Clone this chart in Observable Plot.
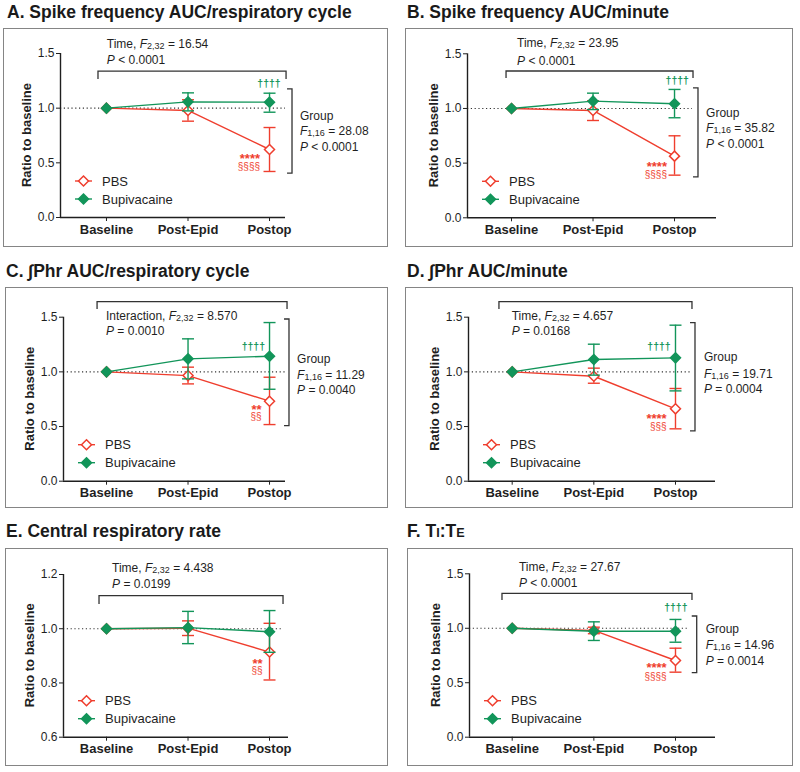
<!DOCTYPE html>
<html><head><meta charset="utf-8">
<script src="https://cdn.jsdelivr.net/npm/d3@7"></script>
<script src="https://cdn.jsdelivr.net/npm/@observablehq/plot@0.6"></script>
<style>
body{margin:0;background:#fff;}
#root{position:relative;width:800px;height:772px;overflow:hidden;font-family:"Liberation Sans",Arial,sans-serif;color:#1a1a1a;}
.title{position:absolute;font-weight:bold;font-size:17.5px;line-height:17.5px;white-space:nowrap;color:#1a1a1a;}
.box{position:absolute;box-sizing:border-box;border:1.5px solid #858585;}
.pl{position:absolute;}
.sc{font-size:0.72em;}
</style></head><body><div id="root"></div>
<script>
const timepoints = ["Baseline", "Post-Epid", "Postop"];
const groups = ["PBS", "Bupivacaine"];
const yLabel = "Ratio to baseline";

// A. Spike frequency AUC/respiratory cycle
const pbsA = [1.000, 0.979, 0.622];
const pbsA_lo = [null, 0.881, 0.421];
const pbsA_hi = [null, 1.077, 0.823];
const bupA = [1.000, 1.058, 1.055];
const bupA_lo = [null, 0.975, 0.963];
const bupA_hi = [null, 1.140, 1.137];
// B. Spike frequency AUC/minute
const pbsB = [1.000, 0.982, 0.564];
const pbsB_lo = [null, 0.890, 0.390];
const pbsB_hi = [null, 1.070, 0.750];
const bupB = [1.000, 1.067, 1.043];
const bupB_lo = [null, 0.990, 0.915];
const bupB_hi = [null, 1.140, 1.174];
// C. ∫Phr AUC/respiratory cycle
const pbsC = [1.000, 0.966, 0.732];
const pbsC_lo = [null, 0.890, 0.518];
const pbsC_hi = [null, 1.043, 0.951];
const bupC = [1.000, 1.119, 1.143];
const bupC_lo = [null, 0.936, 0.841];
const bupC_hi = [null, 1.302, 1.451];
// D. ∫Phr AUC/minute
const pbsD = [1.000, 0.960, 0.662];
const pbsD_lo = [null, 0.896, 0.479];
const pbsD_hi = [null, 1.034, 0.848];
const bupD = [1.000, 1.113, 1.128];
const bupD_lo = [null, 0.970, 0.826];
const bupD_hi = [null, 1.253, 1.427];
// E. Central respiratory rate
const pbsE = [1.000, 1.002, 0.914];
const pbsE_lo = [null, 0.975, 0.811];
const pbsE_hi = [null, 1.029, 1.020];
const bupE = [1.000, 1.004, 0.989];
const bupE_lo = [null, 0.945, 0.913];
const bupE_hi = [null, 1.064, 1.067];
// F. Ti:Te
const pbsF = [1.000, 0.980, 0.704];
const pbsF_lo = [null, 0.950, 0.597];
const pbsF_hi = [null, 1.010, 0.817];
const bupF = [1.000, 0.973, 0.973];
const bupF_lo = [null, 0.888, 0.872];
const bupF_hi = [null, 1.059, 1.081];

const yTicksStd = [0, 0.5, 1.0, 1.5];
const yTicksE = [0.6, 0.8, 1.0, 1.2];

const red = "#ef3e2e", green = "#12955a", ink = "#1f1f1f";

const panels = [
  {title: "A. Spike frequency AUC/respiratory cycle", tl: [7, 4], box: [3, 28, 385, 219],
   m: {top: 25, right: 103, bottom: 30, left: 57}, xd: [-0.564, 2.196], refEnd: 2.196, yd: [0, 1.5], yt: yTicksStd,
   pbs: [pbsA, pbsA_lo, pbsA_hi], bup: [bupA, bupA_lo, bupA_hi],
   ann: {top: {x: 0.01, y: [1.582, 1.436], lines: ["Time, _F_{2,32} = 16.54", "_P_ < 0.0001"]},
         br: {x1: -0.098, x2: 2.209, y: 1.335, y2: 1.262},
         dag: {x: 2, y: 1.216, anchor: "middle"},
         rb: {x: 2.282, x2: 2.221, y1: 1.171, y2: 0.402},
         grp: {x: 2.38, y: [0.924, 0.787, 0.640], lines: ["Group", "_F_{1,16} = 28.08", "_P_ < 0.0001"]},
         sig: {x: 1.89, y: [0.567, 0.466], lines: ["****", "§§§§"]}}},
  {title: "B. Spike frequency AUC/minute", tl: [407, 4], box: [405, 28, 388, 219],
   m: {top: 25.3, right: 77, bottom: 29.7, left: 62}, xd: [-0.54, 2.515], refEnd: 2.22, yd: [0, 1.5], yt: yTicksStd,
   pbs: [pbsB, pbsB_lo, pbsB_hi], bup: [bupB, bupB_lo, bupB_hi],
   ann: {top: {x: 0.074, y: [1.594, 1.430], lines: ["Time, _F_{2,32} = 23.95", "_P_ < 0.0001"]},
         br: {x1: -0.061, x2: 2.233, y: 1.338, y2: 1.274},
         dag: {x: 2.04, y: 1.247, anchor: "middle"},
         rb: {x: 2.294, x2: 2.233, y1: 1.183, y2: 0.369},
         grp: {x: 2.393, y: [0.954, 0.817, 0.671], lines: ["Group", "_F_{1,16} = 35.82", "_P_ < 0.0001"]},
         sig: {x: 1.914, y: [0.497, 0.396], lines: ["****", "§§§§"]}}},
  {title: "C. ∫Phr AUC/respiratory cycle", tl: [6, 263], box: [5, 287, 383, 221],
   m: {top: 29.7, right: 103, bottom: 27.3, left: 58}, xd: [-0.528, 2.196], refEnd: 2.196, yd: [0, 1.5], yt: yTicksStd,
   pbs: [pbsC, pbsC_lo, pbsC_hi], bup: [bupC, bupC_lo, bupC_hi],
   ann: {top: {x: 0, y: [1.509, 1.369], lines: ["Interaction, _F_{2,32} = 8.570", "_P_ = 0.0010"]},
         br: {x1: -0.11, x2: 2.221, y: 1.637, y2: 1.570},
         dag: {x: 1.951, y: 1.223, anchor: "end"},
         rb: {x: 2.245, x2: 2.184, y1: 1.479, y2: 0.503},
         grp: {x: 2.344, y: [1.113, 0.967, 0.830], lines: ["Group", "_F_{1,16} = 11.29", "_P_ = 0.0040"]},
         sig: {x: 1.91, y: [0.683, 0.583], lines: ["**", "§§"]}}},
  {title: "D. ∫Phr AUC/minute", tl: [407, 263], box: [405, 287, 388, 221],
   m: {top: 29.7, right: 78, bottom: 27.3, left: 63}, xd: [-0.535, 2.49], refEnd: 2.21, yd: [0, 1.5], yt: yTicksStd,
   pbs: [pbsD, pbsD_lo, pbsD_hi], bup: [bupD, bupD_lo, bupD_hi],
   ann: {top: {x: 0, y: [1.509, 1.369], lines: ["Time, _F_{2,32} = 4.657", "_P_ = 0.0168"]},
         br: {x1: -0.156, x2: 2.208, y: 1.637, y2: 1.570},
         dag: {x: 1.947, y: 1.223, anchor: "end"},
         rb: {x: 2.245, x2: 2.184, y1: 1.445, y2: 0.455},
         grp: {x: 2.355, y: [1.129, 0.982, 0.839], lines: ["Group", "_F_{1,16} = 19.71", "_P_ = 0.0004"]},
         sig: {x: 1.898, y: [0.601, 0.500], lines: ["****", "§§§"]}}},
  {title: "E. Central respiratory rate", tl: [6, 523], box: [5, 548, 383, 218],
   m: {top: 26, right: 100, bottom: 29.3, left: 58}, xd: [-0.528, 2.233], refEnd: 2.16, yd: [0.6, 1.2], yt: yTicksE,
   pbs: [pbsE, pbsE_lo, pbsE_hi], bup: [bupE, bupE_lo, bupE_hi],
   ann: {top: {x: 0.074, y: [1.222, 1.163], lines: ["Time, _F_{2,32} = 4.438", "_P_ = 0.0199"]},
         br: {x1: -0.086, x2: 2.172, y: 1.120, y2: 1.089},
         sig: {x: 1.922, y: [0.883, 0.843], lines: ["**", "§§"]}}},
  {title: 'F. T<span class="sc">I</span>:T<span class="sc">E</span>', tl: [407, 523], box: [407, 548, 386, 218],
   m: {top: 25.3, right: 78, bottom: 29.3, left: 62}, xd: [-0.523, 2.49], refEnd: 2.16, yd: [0, 1.5], yt: yTicksStd,
   pbs: [pbsF, pbsF_lo, pbsF_hi], bup: [bupF, bupF_lo, bupF_hi],
   ann: {top: {x: 0.089, y: [1.561, 1.414], lines: ["Time, _F_{2,32} = 27.67", "_P_ < 0.0001"]},
         br: {x1: -0.119, x2: 2.208, y: 1.316, y2: 1.255},
         dag: {x: 2.01, y: 1.181, anchor: "middle"},
         rb: {x: 2.266, x2: 2.205, y1: 1.108, y2: 0.588},
         grp: {x: 2.376, y: [0.986, 0.842, 0.698], lines: ["Group", "_F_{1,16} = 14.96", "_P_ = 0.0014"]},
         sig: {x: 1.898, y: [0.667, 0.557], lines: ["****", "§§§§"]}}}
];

const capSym = {draw(ctx) { ctx.moveTo(-6, 0); ctx.lineTo(6, 0); }};

function rows(arrs) {
  const [m, lo, hi] = arrs;
  return m.map((v, i) => ({i, m: v, lo: lo[i], hi: hi[i]}));
}

function series(data, color, filled) {
  const err = data.filter(d => d.lo != null);
  const sw = 1.4;
  return [
    Plot.line(data, {x: "i", y: "m", stroke: color, strokeWidth: sw}),
    Plot.ruleX(err, {x: "i", y1: "lo", y2: "hi", stroke: color, strokeWidth: sw}),
    Plot.dot(err, {x: "i", y: "lo", symbol: capSym, r: 6, stroke: color, strokeWidth: sw, fill: "none"}),
    Plot.dot(err, {x: "i", y: "hi", symbol: capSym, r: 6, stroke: color, strokeWidth: sw, fill: "none"}),
    Plot.dot(data, {x: "i", y: "m", symbol: "diamond2", r: 4.5, stroke: color, strokeWidth: 1.5, fill: filled ? color : "white"})
  ];
}

function rich(g, x, y, str, size, anchor, color) {
  const t = g.append("text").attr("x", x).attr("y", y).attr("dy", "0.35em")
    .attr("font-size", size).attr("fill", color || ink).attr("text-anchor", anchor || "start")
    .style("white-space", "pre");
  const parts = str.split(/(_[^_]+_|\{[^}]+\})/).filter(s => s.length);
  let shifted = false;
  for (const p of parts) {
    const ts = t.append("tspan");
    if (p[0] === "{") {
      ts.text(p.slice(1, -1)).attr("font-size", size * 0.75).attr("dy", 1.2);
      shifted = true;
      continue;
    }
    if (p[0] === "_") ts.text(p.slice(1, -1)).attr("font-style", "italic");
    else ts.text(p);
    if (shifted) { ts.attr("dy", -1.2); shifted = false; }
  }
  return t;
}

const root = document.getElementById("root");

for (const cfg of panels) {
  const [bl, bt, bw, bh] = cfg.box;
  const title = document.createElement("div");
  title.className = "title";
  title.style.left = cfg.tl[0] + "px";
  title.style.top = cfg.tl[1] + "px";
  title.innerHTML = cfg.title;
  root.appendChild(title);

  const box = document.createElement("div");
  box.className = "box";
  Object.assign(box.style, {left: bl + "px", top: bt + "px", width: bw + "px", height: bh + "px"});
  root.appendChild(box);

  const pbs = rows(cfg.pbs), bup = rows(cfg.bup);
  const plot = Plot.plot({
    width: bw, height: bh,
    marginTop: cfg.m.top, marginRight: cfg.m.right, marginBottom: cfg.m.bottom, marginLeft: cfg.m.left,
    style: {background: "transparent", fontFamily: "'Liberation Sans', Arial, sans-serif", fontSize: "12px", color: ink, overflow: "visible"},
    x: {type: "linear", domain: cfg.xd, ticks: [0, 1, 2], tickFormat: i => timepoints[i], tickSize: 4, tickPadding: 3, label: null},
    y: {type: "linear", domain: cfg.yd, ticks: cfg.yt, tickFormat: d3.format(".1f"), tickSize: 4, tickPadding: 2, label: null},
    marks: [
      Plot.ruleY([1], {x1: () => cfg.xd[0], x2: () => cfg.refEnd, stroke: "#333", strokeWidth: 1.1, strokeDasharray: "1.2,2.6"}),
      ...series(pbs, red, false),
      ...series(bup, green, true),
      Plot.ruleX([cfg.xd[0]], {stroke: ink, strokeWidth: 1.4}),
      Plot.ruleY([cfg.yd[0]], {stroke: ink, strokeWidth: 1.4})
    ]
  });
  plot.classList.add("pl");
  plot.style.left = bl + "px";
  plot.style.top = bt + "px";
  root.appendChild(plot);

  // bold category tick labels
  plot.querySelectorAll('g[aria-label^="x-axis"] text').forEach(t => {
    t.setAttribute("font-weight", "bold");
    t.setAttribute("font-size", "13");
  });

  const sx = plot.scale("x"), sy = plot.scale("y");
  const X = v => sx.apply(v), Y = v => sy.apply(v);
  const svg = d3.select(plot);
  const g = svg.append("g").attr("text-anchor", "start");
  const ml = cfg.m.left, yb = bh - cfg.m.bottom;

  // y axis title
  g.append("text")
    .attr("transform", `translate(${ml - 34},${(cfg.m.top + yb) / 2}) rotate(-90)`)
    .attr("text-anchor", "middle").attr("dy", "0.35em")
    .attr("font-weight", "bold").attr("font-size", 13).attr("fill", ink).text(yLabel);

  // legend
  [[groups[0], red, false, 36], [groups[1], green, true, 18]].forEach(([name, c, f, off]) => {
    const y = yb - off;
    g.append("line").attr("x1", ml + 15).attr("x2", ml + 32).attr("y1", y).attr("y2", y)
      .attr("stroke", c).attr("stroke-width", 1.4);
    g.append("path").attr("d", d3.symbol(d3.symbolDiamond2, Math.PI * 4.5 * 4.5)())
      .attr("transform", `translate(${ml + 23.5},${y})`)
      .attr("fill", f ? c : "white").attr("stroke", c).attr("stroke-width", 1.5);
    g.append("text").attr("x", ml + 42).attr("y", y).attr("dy", "0.35em")
      .attr("text-anchor", "start").attr("font-size", 13).attr("fill", ink).text(name);
  });

  const a = cfg.ann;
  a.top.lines.forEach((s, k) => rich(g, X(a.top.x), Y(a.top.y[k]), s, 12));
  const br = a.br;
  g.append("path")
    .attr("d", `M${X(br.x1)},${Y(br.y2)}V${Y(br.y)}H${X(br.x2)}V${Y(br.y2)}`)
    .attr("fill", "none").attr("stroke", "#333").attr("stroke-width", 1.3);
  if (a.dag) {
    g.append("text").attr("x", X(a.dag.x)).attr("y", Y(a.dag.y)).attr("dy", "0.32em")
      .attr("text-anchor", a.dag.anchor).attr("font-size", 10.5).attr("font-weight", "bold")
      .attr("fill", green).text("††††");
  }
  if (a.rb) {
    const rb = a.rb;
    g.append("path")
      .attr("d", `M${X(rb.x2)},${Y(rb.y1)}H${X(rb.x)}V${Y(rb.y2)}H${X(rb.x2)}`)
      .attr("fill", "none").attr("stroke", "#333").attr("stroke-width", 1.3);
  }
  if (a.grp) a.grp.lines.forEach((s, k) => rich(g, X(a.grp.x), Y(a.grp.y[k]), s, 12));
  if (a.sig) {
    g.append("text").attr("x", X(a.sig.x)).attr("y", Y(a.sig.y[0])).attr("dy", "0.6em")
      .attr("text-anchor", "end").attr("font-size", 13).attr("font-weight", "bold")
      .attr("fill", red).text(a.sig.lines[0]);
    g.append("text").attr("x", X(a.sig.x)).attr("y", Y(a.sig.y[1])).attr("dy", "0.35em")
      .attr("text-anchor", "end").attr("font-size", 10).attr("fill", red).text(a.sig.lines[1]);
  }
}
</script></body></html>
